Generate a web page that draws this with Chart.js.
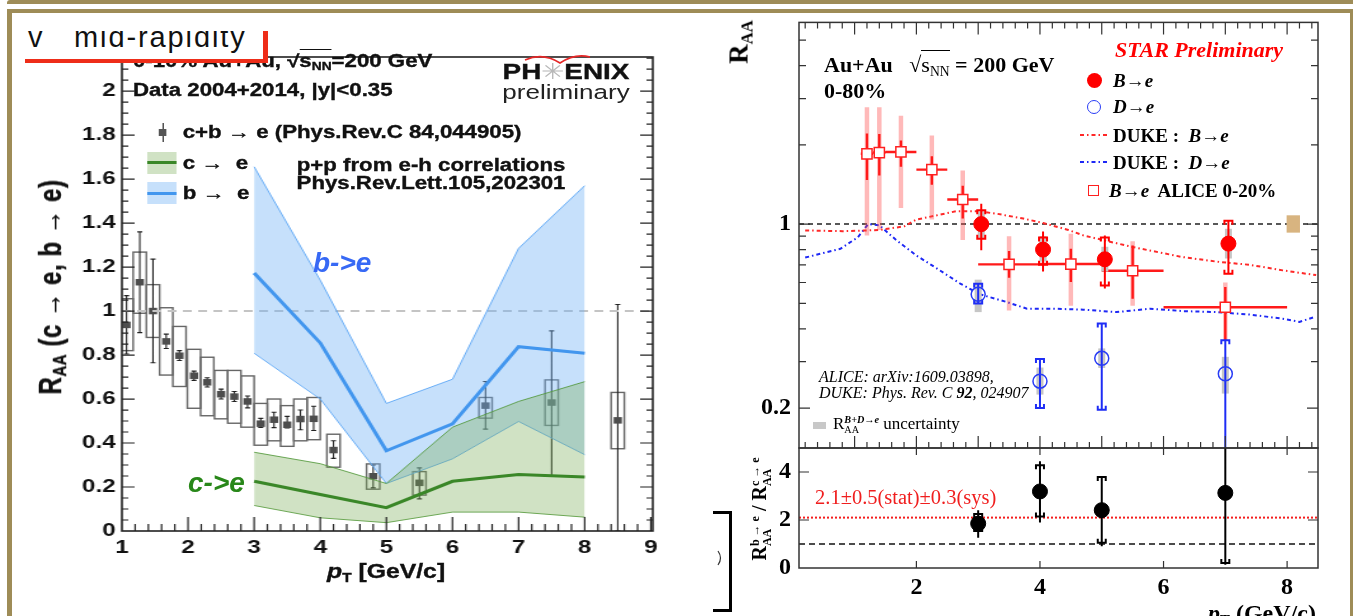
<!DOCTYPE html>
<html lang="en">
<head>
<meta charset="utf-8">
<title>Heavy-flavour electron suppression at RHIC</title>
<script src="https://cdn.jsdelivr.net/npm/chart.js@4.4.1/dist/chart.umd.min.js"></script>
<style>
  html, body { margin: 0; padding: 0; background: #fff; }
  #page { position: relative; width: 1353px; height: 616px; overflow: hidden; background: #fff; }
  .t { position: absolute; white-space: nowrap; line-height: 1; }
  .box { position: absolute; }
  .sans { font-family: "Liberation Sans", Arial, sans-serif; font-weight: bold; color: #111; }
  .heavy { -webkit-text-stroke: 0.35px #111; }
  .serif { font-family: "Liberation Serif", "Times New Roman", serif; color: #000; }
  .b { font-weight: bold; }
  .n { font-weight: normal; }
  .i { font-style: italic; }
  .ctr { transform: translateX(-50%); }
  .mid { transform: translate(-50%, -50%); }
  .rot { transform: translate(-50%, -50%) rotate(-90deg); }
  .gold { position: absolute; background: #9e8c57; }
  sub { font-size: 0.62em; vertical-align: -0.28em; line-height: 0; }
  .ss { display: inline-block; vertical-align: -0.42em; font-size: 0.6em; line-height: 1; }
  .ss > span { display: block; }
  .ov { border-top: 1.4px solid currentColor; padding-top: 1px; }
  #phenixWrap { position: absolute; left: 0; top: 0; width: 544px; height: 616px; transform: scaleX(1.27); transform-origin: 0 0; }
  #phenix { position: absolute; left: 0; top: 0; }
  #starTop, #starRatio { position: absolute; left: 690px; top: 0; }
</style>
</head>
<body>
<div id="page">

  <!-- PHENIX panel (drawn in its own horizontally stretched frame) -->
  <div id="phenixWrap">
    <canvas id="phenix" width="544" height="616"></canvas>
    <div class="t sans heavy" style="left:104.7px;top:53.2px;font-size:17.5px">0-10% Au+Au, &radic;<span class="ov">s<sub>NN</sub></span>=200 GeV</div>
    <div class="t sans heavy" style="left:104.7px;top:82.2px;font-size:17.5px">Data 2004+2014, |y|&lt;0.35</div>
    <div class="box" style="left:127.8px;top:123.3px;width:1px;height:18.4px;background:#333"></div>
    <div class="box" style="left:125.4px;top:129.3px;width:5.8px;height:6.7px;background:#555"></div>
    <div class="t sans heavy" style="left:143.9px;top:124.2px;font-size:17.5px">c+b &rarr; e (Phys.Rev.C 84,044905)</div>
    <div class="box" style="left:116.3px;top:151.7px;width:22.8px;height:22.3px;background:rgba(121,172,86,0.35)"></div>
    <div class="box" style="left:116.3px;top:161.3px;width:22.8px;height:2.8px;background:rgb(58,135,40)"></div>
    <div class="t sans heavy" style="left:143.9px;top:155.2px;font-size:17.5px">c &rarr;&nbsp; e</div>
    <div class="box" style="left:116.3px;top:182px;width:22.8px;height:22px;background:rgba(112,177,245,0.4)"></div>
    <div class="box" style="left:116.3px;top:191.9px;width:22.8px;height:2.8px;background:rgb(66,150,238)"></div>
    <div class="t sans heavy" style="left:143.9px;top:185.2px;font-size:17.5px">b &rarr;&nbsp; e</div>
    <div class="t sans heavy ctr" style="left:339.4px;top:156.9px;font-size:17.5px">p+p from e-h correlations</div>
    <div class="t sans heavy ctr" style="left:339.4px;top:174.5px;font-size:17.5px">Phys.Rev.Lett.105,202301</div>
    <div class="t sans heavy ctr" style="left:445.7px;top:61.4px;font-size:22px">PH<span class="n" style="color:#b8b8b8;-webkit-text-stroke:0">&#10035;</span>ENIX</div>
    <div class="t sans n ctr" style="left:445.7px;top:81.6px;font-size:20.5px;color:#222">preliminary</div>
    <div class="t sans heavy rot" style="left:40.2px;top:286.5px;font-size:24px;letter-spacing:0.6px">R<sub>AA</sub> (c &rarr; e, b &rarr; e)</div>
    <div class="t sans heavy mid" style="left:304px;top:572px;font-size:19.5px"><i>p</i><sub>T</sub> [GeV/c]</div>
  </div>
  <div class="t sans i" style="left:313px;top:249.3px;font-size:28px;color:rgb(55,105,245)">b-&gt;e</div>
  <div class="t sans i" style="left:188px;top:469.3px;font-size:28px;color:rgb(40,135,25)">c-&gt;e</div>
  <svg class="box" style="left:515px;top:48px" width="85" height="20">
    <path d="M10 12 Q28 4 45 15 Q60 5 75 9" fill="none" stroke="rgb(230,40,40)" stroke-width="1.6"/>
  </svg>

  <!-- STAR panels -->
  <canvas id="starTop" width="663" height="616"></canvas>
  <canvas id="starRatio" width="663" height="616"></canvas>

  <div class="t serif b rot" style="left:739px;top:41.5px;font-size:27px">R<sub>AA</sub></div>
  <div class="t serif b" style="left:824px;top:53.6px;font-size:22px">Au+Au&nbsp;&nbsp; &radic;<span class="ov n">s<sub>NN</sub></span> = 200 GeV</div>
  <div class="t serif b" style="left:824px;top:79.6px;font-size:22px">0-80%</div>
  <div class="t serif b i" style="left:1115px;top:38.6px;font-size:22px;color:#ff0000">STAR Preliminary</div>

  <div class="box" style="left:1086.5px;top:73px;width:15px;height:15px;border-radius:50%;background:#ff0000"></div>
  <div class="t serif b i" style="left:1113px;top:71px;font-size:19px">B&rarr;e</div>
  <div class="box" style="left:1086.5px;top:100px;width:12px;height:12px;border-radius:50%;border:1.5px solid rgb(40,60,245)"></div>
  <div class="t serif b i" style="left:1113px;top:97px;font-size:19px">D&rarr;e</div>
  <svg class="box" style="left:1078px;top:128px" width="34" height="40">
    <line x1="2" y1="7" x2="30" y2="7" stroke="rgb(255,40,40)" stroke-width="2" stroke-dasharray="4 3 1.5 3"/>
    <line x1="2" y1="34" x2="30" y2="34" stroke="rgb(30,40,245)" stroke-width="2" stroke-dasharray="4 3 1.5 3"/>
  </svg>
  <div class="t serif b" style="left:1113px;top:126px;font-size:19px">DUKE :&nbsp; <span class="i">B&rarr;e</span></div>
  <div class="t serif b" style="left:1113px;top:153px;font-size:19px">DUKE :&nbsp; <span class="i">D&rarr;e</span></div>
  <div class="box" style="left:1087.5px;top:184.5px;width:9px;height:9px;border:1.5px solid #ff2020;background:#fff"></div>
  <div class="t serif b" style="left:1109px;top:181px;font-size:19px"><span class="i">B&rarr;e</span>&nbsp; ALICE 0-20%</div>

  <div class="t serif i" style="left:819px;top:368.6px;font-size:16px">ALICE: arXiv:1609.03898,</div>
  <div class="t serif i" style="left:819px;top:384.6px;font-size:16px">DUKE: Phys. Rev. C <b>92</b>, 024907</div>
  <div class="box" style="left:813px;top:421.5px;width:13px;height:7px;background:#c8c8c8"></div>
  <div class="t serif" style="left:833px;top:415px;font-size:17px">R<span class="ss"><span class="b i">B+D&rarr;e</span><span>AA</span></span> uncertainty</div>

  <div class="t serif" style="left:815px;top:486.8px;font-size:20.5px;color:rgb(240,30,30)">2.1&plusmn;0.5(stat)&plusmn;0.3(sys)</div>
  <div class="t serif b rot" style="left:761px;top:509px;font-size:20px">R<span class="ss"><span>b &rarr; e</span><span>AA</span></span> / R<span class="ss"><span>c &rarr; e</span><span>AA</span></span></div>
  <div class="t serif b" style="left:1208px;top:601px;font-size:24px"><i>p</i><sub>T</sub> (GeV/c)</div>

  <div class="box" style="left:728.5px;top:511px;width:3px;height:101px;background:#000"></div>
  <div class="box" style="left:713px;top:511px;width:18px;height:3px;background:#000"></div>
  <div class="box" style="left:713px;top:609px;width:18px;height:3px;background:#000"></div>
  <svg class="box" style="left:714px;top:548px" width="12" height="20">
    <path d="M4 3 Q9 10 4 17" fill="none" stroke="#333" stroke-width="1.2"/>
  </svg>

  <!-- slide decorations -->
  <div class="box" style="left:12px;top:13px;width:254px;height:46px;background:#fff"></div>
  <div class="box" style="left:12px;top:31px;width:251px;height:28px;overflow:hidden">
    <div class="t" style="left:16px;top:-8.5px;font-size:29px;font-family:'Liberation Sans',Arial,sans-serif;color:#111">v</div>
    <div class="t" style="left:62px;top:-8.5px;font-size:29px;letter-spacing:1.9px;font-family:'Liberation Sans',Arial,sans-serif;color:#111">mid-rapidity</div>
  </div>
  <div class="box" style="left:25px;top:59px;width:243px;height:4px;background:rgb(238,45,25)"></div>
  <div class="box" style="left:263px;top:31px;width:5px;height:32px;background:rgb(238,45,25)"></div>
  <div class="gold" style="left:7px;top:0;width:1346px;height:4px;border-top-left-radius:3px"></div>
  <div class="gold" style="left:7px;top:9px;width:1346px;height:4px"></div>
  <div class="gold" style="left:7px;top:9px;width:5px;height:607px"></div>
  <div class="gold" style="left:1350px;top:9px;width:3px;height:607px"></div>
</div>

<script>
// ---------- PHENIX 0-10% Au+Au: c+b -> e ----------
const hfePt      = [1.07, 1.27, 1.47, 1.67, 1.87, 2.09, 2.29, 2.5, 2.7, 2.9, 3.1, 3.3, 3.5, 3.7, 3.9, 4.2, 4.8, 5.5, 6.5, 7.5, 8.5];
const hfeRaa     = [0.937, 1.131, 1.0, 0.862, 0.797, 0.706, 0.676, 0.622, 0.611, 0.589, 0.488, 0.506, 0.483, 0.509, 0.51, 0.368, 0.249, 0.219, 0.57, 0.584, 0.503];
const hfeStatLo  = [0.805, 0.902, 0.765, 0.83, 0.775, 0.685, 0.655, 0.60, 0.589, 0.56, 0.471, 0.47, 0.468, 0.46, 0.457, 0.33, 0.196, 0.146, 0.463, 0.252, 0.0];
const hfeStatHi  = [1.07, 1.36, 1.236, 0.895, 0.82, 0.727, 0.697, 0.645, 0.634, 0.614, 0.512, 0.54, 0.521, 0.55, 0.567, 0.41, 0.30, 0.287, 0.68, 0.91, 1.03];
const hfeSysLo   = [0.82, 0.99, 0.88, 0.709, 0.657, 0.558, 0.524, 0.51, 0.49, 0.472, 0.39, 0.41, 0.385, 0.41, 0.415, 0.29, 0.19, 0.163, 0.513, 0.48, 0.374];
const hfeSysHi   = [1.056, 1.268, 1.12, 1.015, 0.93, 0.826, 0.79, 0.73, 0.73, 0.705, 0.58, 0.60, 0.57, 0.60, 0.607, 0.44, 0.305, 0.27, 0.607, 0.687, 0.63];
const hfeBoxHalf = 0.1;

// ---------- b -> e and c -> e from p+p e-h correlations ----------
const bandPt = [3, 4, 5, 6, 7, 8];
const bMid   = [1.173, 0.855, 0.365, 0.487, 0.838, 0.808];
const bLo    = [0.808, 0.60, 0.216, 0.328, 0.498, 0.347];
const bHi    = [1.656, 1.14, 0.58, 0.69, 1.285, 1.57];
const cMid   = [0.226, 0.166, 0.106, 0.226, 0.257, 0.246];
const cLo    = [0.116, 0.06, 0.038, 0.086, 0.086, 0.063];
const cHi    = [0.358, 0.306, 0.216, 0.472, 0.589, 0.679];

// ---------- STAR 0-80% Au+Au ----------
const starBPt     = [3.05, 4.05, 5.05, 7.05];
const starBRaa    = [1.0, 0.80, 0.735, 0.843];
const starBStatLo = [0.795, 0.66, 0.569, 0.648];
const starBStatHi = [1.195, 0.938, 0.906, 1.03];
const starBSysLo  = [0.88, 0.70, 0.585, 0.648];
const starBSysHi  = [1.13, 0.89, 0.89, 1.03];
const starBUncLo  = [0.88, 0.72, 0.66, 0.74];
const starBUncHi  = [1.12, 0.90, 0.82, 0.96];

const starDPt     = [3, 4, 5, 7];
const starDRaa    = [0.541, 0.253, 0.309, 0.27];
const starDStatLo = [0.499, 0.20, 0.197, 0.12];
const starDStatHi = [0.594, 0.307, 0.419, 0.362];
const starDSysLo  = [0.499, 0.20, 0.197, 0.12];
const starDSysHi  = [0.594, 0.307, 0.419, 0.362];
const starDUncLo  = [0.463, 0.225, 0.284, 0.227];
const starDUncHi  = [0.615, 0.285, 0.337, 0.313];

// ALICE 0-20% b -> e
const alicePt     = [1.2, 1.4, 1.75, 2.25, 2.75, 3.5, 4.5, 5.5, 7.0];
const aliceBinLo  = [1.1, 1.3, 1.5, 2.0, 2.5, 3.0, 4.0, 5.0, 6.0];
const aliceBinHi  = [1.3, 1.5, 2.0, 2.5, 3.0, 4.0, 5.0, 6.0, 8.0];
const aliceRaa    = [1.85, 1.87, 1.88, 1.61, 1.24, 0.703, 0.705, 0.665, 0.483];
const aliceStatLo = [1.47, 1.53, 1.65, 1.41, 1.05, 0.626, 0.603, 0.52, 0.362];
const aliceStatHi = [2.21, 2.2, 2.08, 1.81, 1.40, 0.79, 0.806, 0.83, 0.577];
const aliceSysLo  = [0.906, 0.95, 1.15, 1.04, 0.87, 0.47, 0.49, 0.49, 0.36];
const aliceSysHi  = [2.78, 2.78, 2.58, 2.17, 1.60, 0.90, 0.92, 0.86, 0.60];

// DUKE Langevin model
const dukeBPt  = [0.2, 0.8, 1.2, 1.4, 1.8, 2.0, 2.37, 2.65, 2.98, 3.3, 3.73, 4.05, 4.46, 4.7, 5.5, 6.3, 6.86, 7.4, 7.93, 8.47];
const dukeBRaa = [0.946, 0.94, 0.946, 0.95, 0.98, 1.04, 1.085, 1.12, 1.12, 1.095, 1.05, 1.01, 0.95, 0.906, 0.818, 0.75, 0.72, 0.70, 0.667, 0.64];
const dukeDPt  = [0.2, 0.77, 1.05, 1.22, 1.4, 1.68, 2.0, 2.38, 2.71, 3.04, 3.46, 3.79, 4.2, 4.7, 5.24, 5.78, 6.32, 6.86, 7.4, 7.93, 8.2, 8.45];
const dukeDRaa = [0.746, 0.806, 0.89, 1.0, 0.99, 0.867, 0.76, 0.667, 0.594, 0.54, 0.506, 0.477, 0.477, 0.473, 0.463, 0.477, 0.467, 0.463, 0.453, 0.437, 0.425, 0.444];

// global normalisation uncertainty
const normPt = 8.1, normLo = 0.928, normHi = 1.08, normHalf = 0.108;

// ---------- STAR ratio b->e / c->e ----------
const ratioPt     = [3, 4, 5, 7];
const ratio       = [1.85, 3.19, 2.41, 3.13];
const ratioStatLo = [1.26, 1.9, 0.91, 0.14];
const ratioStatHi = [2.41, 4.45, 3.82, 5.4];
const ratioSysLo  = [1.54, 2.15, 1.05, 0.21];
const ratioSysHi  = [2.25, 4.28, 3.79, 5.4];
const ratioFit    = 2.1;
const unity       = 1;

// ---------- axes ----------
const phenixX = [1, 9.03], phenixY = [0, 2.155];
const starX = [0.1, 8.5], starY = [0.141, 5.84], ratioY = [0, 5];
const phenixXLabels = [1, 2, 3, 4, 5, 6, 7, 8, 9];
const phenixYLabels = [0, 0.2, 0.4, 0.6, 0.8, 1, 1.2, 1.4, 1.6, 1.8, 2];
const starYLabels   = [0.2, 1];
const ratioXLabels  = [2, 4, 6, 8];
const ratioYLabels  = [0, 2, 4];

const xy = (xs, ys) => xs.map((x, i) => ({ x, y: ys[i] }));
const steps = (a, b, s) => { const r = []; for (let v = a; v <= b + 1e-9; v += s) r.push(+v.toFixed(3)); return r; };

// frame with inward ticks on the chosen sides
const frameTicks = {
  id: 'frameTicks',
  afterDatasetsDraw(chart, args, o) {
    const { ctx, chartArea: a, scales: { x, y } } = chart;
    ctx.save();
    ctx.setLineDash([]);
    ctx.strokeStyle = o.color;
    ctx.lineWidth = o.tickWidth;
    ctx.beginPath();
    const inside = (v, s) => v > s.min && v < s.max;
    const xTicks = (vals, len) => vals.filter(v => inside(v, x)).forEach(v => {
      const p = x.getPixelForValue(v);
      if (o.bottom) { ctx.moveTo(p, a.bottom); ctx.lineTo(p, a.bottom - len); }
      if (o.top) { ctx.moveTo(p, a.top); ctx.lineTo(p, a.top + len); }
    });
    const yTicks = (vals, len) => vals.filter(v => inside(v, y)).forEach(v => {
      const p = y.getPixelForValue(v);
      if (o.left) { ctx.moveTo(a.left, p); ctx.lineTo(a.left + len, p); }
      if (o.right) { ctx.moveTo(a.right, p); ctx.lineTo(a.right - len, p); }
    });
    xTicks(o.xMajor, o.xMajorLen); xTicks(o.xMinor, o.xMinorLen);
    yTicks(o.yMajor, o.yMajorLen); yTicks(o.yMinor, o.yMinorLen);
    ctx.stroke();
    ctx.lineWidth = o.frameWidth;
    ctx.strokeRect(a.left, a.top, a.right - a.left, a.bottom - a.top);
    ctx.restore();
  }
};

const clipArea = (ctx, a) => { ctx.beginPath(); ctx.rect(a.left, a.top, a.right - a.left, a.bottom - a.top); ctx.clip(); };

function errorBar(ctx, px, yLo, yHi) {
  ctx.moveTo(px, yHi); ctx.lineTo(px, yLo);
}
// ROOT-style bracket closing a systematic error
function bracket(ctx, px, py, w, leg) {
  ctx.moveTo(px - w, py + leg); ctx.lineTo(px - w, py); ctx.lineTo(px + w, py); ctx.lineTo(px + w, py + leg);
}

const phenixMarks = {
  id: 'phenixMarks',
  beforeDatasetDraw(chart, args) {
    if (chart.data.datasets[args.index].label !== 'hfe') return;
    const { ctx, chartArea: a, scales: { x, y } } = chart;
    const X = v => x.getPixelForValue(v), Y = v => y.getPixelForValue(v);
    ctx.save();
    clipArea(ctx, a);
    ctx.setLineDash([]);
    ctx.strokeStyle = '#666';
    ctx.lineWidth = 1.4;
    hfePt.forEach((p, i) => {
      const l = X(p - hfeBoxHalf), r = X(p + hfeBoxHalf), t = Y(hfeSysHi[i]), b = Y(hfeSysLo[i]);
      ctx.strokeRect(l, t, r - l, b - t);
    });
    ctx.strokeStyle = '#222';
    ctx.lineWidth = 1.1;
    ctx.beginPath();
    hfePt.forEach((p, i) => {
      const px = X(p), t = Y(hfeStatHi[i]), b = Y(hfeStatLo[i]);
      ctx.moveTo(px, t); ctx.lineTo(px, b);
      ctx.moveTo(px - 2, t); ctx.lineTo(px + 2, t);
      ctx.moveTo(px - 2, b); ctx.lineTo(px + 2, b);
    });
    ctx.stroke();
    ctx.restore();
  }
};

const starMarks = {
  id: 'starMarks',
  beforeDatasetDraw(chart, args) {
    const label = chart.data.datasets[args.index].label;
    const { ctx, chartArea: a, scales: { x, y } } = chart;
    const X = v => x.getPixelForValue(v), Y = v => y.getPixelForValue(v);
    ctx.save();
    clipArea(ctx, a);
    ctx.setLineDash([]);
    if (label === 'alice') {
      ctx.strokeStyle = 'rgba(255,70,70,0.38)';
      ctx.lineWidth = 4.5;
      ctx.beginPath();
      alicePt.forEach((p, i) => errorBar(ctx, X(p), Y(aliceSysLo[i]), Y(aliceSysHi[i])));
      ctx.stroke();
      ctx.strokeStyle = '#ff1a1a';
      ctx.lineWidth = 2.4;
      ctx.beginPath();
      alicePt.forEach((p, i) => {
        errorBar(ctx, X(p), Y(aliceStatLo[i]), Y(aliceStatHi[i]));
        ctx.moveTo(X(aliceBinLo[i]), Y(aliceRaa[i])); ctx.lineTo(X(aliceBinHi[i]), Y(aliceRaa[i]));
      });
      ctx.stroke();
    }
    const star = (pt, uLo, uHi, sLo, sHi, eLo, eHi, color) => {
      ctx.fillStyle = '#c6c6c6';
      pt.forEach((p, i) => ctx.fillRect(X(p) - 3.5, Y(uHi[i]), 7, Y(uLo[i]) - Y(uHi[i])));
      ctx.strokeStyle = color;
      ctx.lineWidth = 2;
      ctx.beginPath();
      pt.forEach((p, i) => {
        errorBar(ctx, X(p), Y(eLo[i]), Y(eHi[i]));
        bracket(ctx, X(p), Y(sHi[i]), 4, 4);
        bracket(ctx, X(p), Y(sLo[i]), 4, -4);
      });
      ctx.stroke();
    };
    if (label === 'starD') star(starDPt, starDUncLo, starDUncHi, starDSysLo, starDSysHi, starDStatLo, starDStatHi, 'rgb(30,45,245)');
    if (label === 'starB') star(starBPt, starBUncLo, starBUncHi, starBSysLo, starBSysHi, starBStatLo, starBStatHi, '#ff0000');
    ctx.restore();
  },
  afterDatasetsDraw(chart) {
    const { ctx, scales: { x, y } } = chart;
    ctx.save();
    ctx.fillStyle = 'rgb(216,180,128)';
    const l = x.getPixelForValue(normPt - normHalf), r = x.getPixelForValue(normPt + normHalf);
    const t = y.getPixelForValue(normHi), b = y.getPixelForValue(normLo);
    ctx.fillRect(l, t, r - l, b - t);
    ctx.restore();
  }
};

const ratioMarks = {
  id: 'ratioMarks',
  beforeDatasetDraw(chart, args) {
    if (chart.data.datasets[args.index].label !== 'ratio') return;
    const { ctx, chartArea: a, scales: { x, y } } = chart;
    const X = v => x.getPixelForValue(v), Y = v => y.getPixelForValue(v);
    ctx.save();
    clipArea(ctx, a);
    ctx.setLineDash([]);
    ctx.strokeStyle = '#000';
    ctx.lineWidth = 2;
    ctx.beginPath();
    ratioPt.forEach((p, i) => {
      errorBar(ctx, X(p), Y(ratioStatLo[i]), Y(ratioStatHi[i]));
      bracket(ctx, X(p), Y(ratioSysHi[i]), 4, 4);
      bracket(ctx, X(p), Y(ratioSysLo[i]), 4, -4);
    });
    ctx.stroke();
    ctx.restore();
  }
};

const base = {
  responsive: false, animation: false, devicePixelRatio: 1, events: [],
};
const noGrid = { display: false, drawTicks: false };
const fixedTicks = vals => s => { s.ticks = vals.map(v => ({ value: v })); };
const sansTick = { family: 'Liberation Sans', size: 19, weight: 'bold' };
const serifTick = { family: 'Liberation Serif', size: 24, weight: 'bold' };
const line = (label, xs, ys, color, width, extra) => Object.assign({
  label, data: xy(xs, ys), borderColor: color, borderWidth: width, pointRadius: 0, fill: false,
}, extra || {});

// ---------- PHENIX chart ----------
new Chart(document.getElementById('phenix'), {
  type: 'line',
  data: {
    datasets: [
      line('cMid', bandPt, cMid, 'rgb(58,135,40)', 3),
      line('cHi', bandPt, cHi, 'rgba(80,150,55,0.85)', 1, { fill: '+1', backgroundColor: 'rgba(121,172,86,0.35)' }),
      line('cLo', bandPt, cLo, 'rgba(80,150,55,0.85)', 1),
      line('bMid', bandPt, bMid, 'rgb(66,150,238)', 3),
      line('bHi', bandPt, bHi, 'rgba(90,165,245,0.9)', 1, { fill: '+1', backgroundColor: 'rgba(112,177,245,0.4)' }),
      line('bLo', bandPt, bLo, 'rgba(90,165,245,0.9)', 1),
      line('unity', phenixX, [unity, unity], '#c4c4c4', 2, { borderDash: [7, 5] }),
      { label: 'hfe', data: xy(hfePt, hfeRaa), showLine: false, pointStyle: 'rect', pointRadius: 4.6,
        pointBackgroundColor: '#4d4d4d', pointBorderColor: '#4d4d4d', pointBorderWidth: 0 },
    ]
  },
  options: Object.assign({}, base, {
    layout: { padding: { left: 46, right: 30, top: 57, bottom: 45 } },
    plugins: {
      legend: { display: false }, tooltip: { enabled: false },
      frameTicks: {
        color: '#222', tickWidth: 1.2, frameWidth: 1.6, left: true, right: true, bottom: true, top: false,
        xMajor: steps(1, 9, 1), xMinor: steps(1, 9, 0.2), xMajorLen: 14, xMinorLen: 7,
        yMajor: steps(0, 2, 0.2), yMinor: steps(0, 2.15, 0.05), yMajorLen: 10, yMinorLen: 5,
      },
    },
    scales: {
      x: { type: 'linear', min: phenixX[0], max: phenixX[1], grid: noGrid, border: { display: false },
           afterFit: s => { s.height = 40; }, afterBuildTicks: fixedTicks(phenixXLabels),
           ticks: { font: sansTick, color: '#111', padding: 5, maxRotation: 0, autoSkip: false, callback: v => String(v) } },
      y: { type: 'linear', min: phenixY[0], max: phenixY[1], grid: noGrid, border: { display: false },
           afterFit: s => { s.width = 50; }, afterBuildTicks: fixedTicks(phenixYLabels),
           ticks: { font: sansTick, color: '#111', padding: 5, autoSkip: false, callback: v => String(+v.toFixed(1)) } },
    },
  }),
  plugins: [frameTicks, phenixMarks],
});

// ---------- STAR R_AA ----------
new Chart(document.getElementById('starTop'), {
  type: 'line',
  data: {
    datasets: [
      { label: 'starB', data: xy(starBPt, starBRaa), showLine: false, pointStyle: 'circle', pointRadius: 7.5,
        pointBackgroundColor: '#ff0000', pointBorderColor: '#ff0000', pointBorderWidth: 1 },
      { label: 'starD', data: xy(starDPt, starDRaa), showLine: false, pointStyle: 'circle', pointRadius: 7,
        pointBackgroundColor: 'rgba(0,0,0,0)', pointBorderColor: 'rgb(40,60,245)', pointBorderWidth: 1.5 },
      { label: 'alice', data: xy(alicePt, aliceRaa), showLine: false, pointStyle: 'rect', pointRadius: 7.2,
        pointBackgroundColor: '#fff', pointBorderColor: '#ff2020', pointBorderWidth: 1.5 },
      line('dukeB', dukeBPt, dukeBRaa, 'rgb(255,40,40)', 2, { borderDash: [4, 3, 1.5, 3] }),
      line('dukeD', dukeDPt, dukeDRaa, 'rgb(30,40,245)', 2, { borderDash: [4, 3, 1.5, 3] }),
      line('unity', starX, [unity, unity], '#222', 1.5, { borderDash: [5, 4] }),
    ]
  },
  options: Object.assign({}, base, {
    layout: { padding: { left: 59, right: 35, top: 22, bottom: 168 } },
    plugins: {
      legend: { display: false }, tooltip: { enabled: false },
      frameTicks: {
        color: '#333', tickWidth: 1.2, frameWidth: 1.5, left: true, right: true, bottom: true, top: true,
        xMajor: steps(1, 8, 1), xMinor: steps(0.2, 8.4, 0.2), xMajorLen: 12, xMinorLen: 6,
        yMajor: [0.2, 1], yMinor: [0.3, 0.4, 0.5, 0.6, 0.7, 0.8, 0.9, 2, 3, 4, 5], yMajorLen: 11, yMinorLen: 7,
      },
    },
    scales: {
      x: { type: 'linear', min: starX[0], max: starX[1], grid: noGrid, border: { display: false },
           ticks: { display: false }, afterFit: s => { s.height = 0; } },
      y: { type: 'logarithmic', min: starY[0], max: starY[1], grid: noGrid, border: { display: false },
           afterFit: s => { s.width = 50; }, afterBuildTicks: fixedTicks(starYLabels),
           ticks: { font: serifTick, color: '#000', padding: 8, autoSkip: false, callback: v => String(v) } },
    },
  }),
  plugins: [frameTicks, starMarks],
});

// ---------- STAR ratio ----------
new Chart(document.getElementById('starRatio'), {
  type: 'line',
  data: {
    datasets: [
      { label: 'ratio', data: xy(ratioPt, ratio), showLine: false, pointStyle: 'circle', pointRadius: 7.5,
        pointBackgroundColor: '#000', pointBorderColor: '#000', pointBorderWidth: 1 },
      line('fit', starX, [ratioFit, ratioFit], 'rgb(245,30,30)', 2, { borderDash: [2, 2] }),
      line('unity', starX, [unity, unity], '#111', 1.5, { borderDash: [6, 4] }),
    ]
  },
  options: Object.assign({}, base, {
    layout: { padding: { left: 69, right: 35, top: 448, bottom: 8 } },
    plugins: {
      legend: { display: false }, tooltip: { enabled: false },
      frameTicks: {
        color: '#333', tickWidth: 1.2, frameWidth: 1.5, left: true, right: true, bottom: true, top: true,
        xMajor: ratioXLabels, xMinor: [], xMajorLen: 7, xMinorLen: 0,
        yMajor: [2, 4], yMinor: [], yMajorLen: 10, yMinorLen: 0,
      },
    },
    scales: {
      x: { type: 'linear', min: starX[0], max: starX[1], grid: noGrid, border: { display: false },
           afterFit: s => { s.height = 40; }, afterBuildTicks: fixedTicks(ratioXLabels),
           ticks: { font: serifTick, color: '#000', padding: 5, maxRotation: 0, autoSkip: false, callback: v => String(v) } },
      y: { type: 'linear', min: ratioY[0], max: ratioY[1], grid: noGrid, border: { display: false },
           afterFit: s => { s.width = 40; }, afterBuildTicks: fixedTicks(ratioYLabels),
           ticks: { font: serifTick, color: '#000', padding: 8, autoSkip: false, callback: v => String(v) } },
    },
  }),
  plugins: [frameTicks, ratioMarks],
});
</script>
</body>
</html>
